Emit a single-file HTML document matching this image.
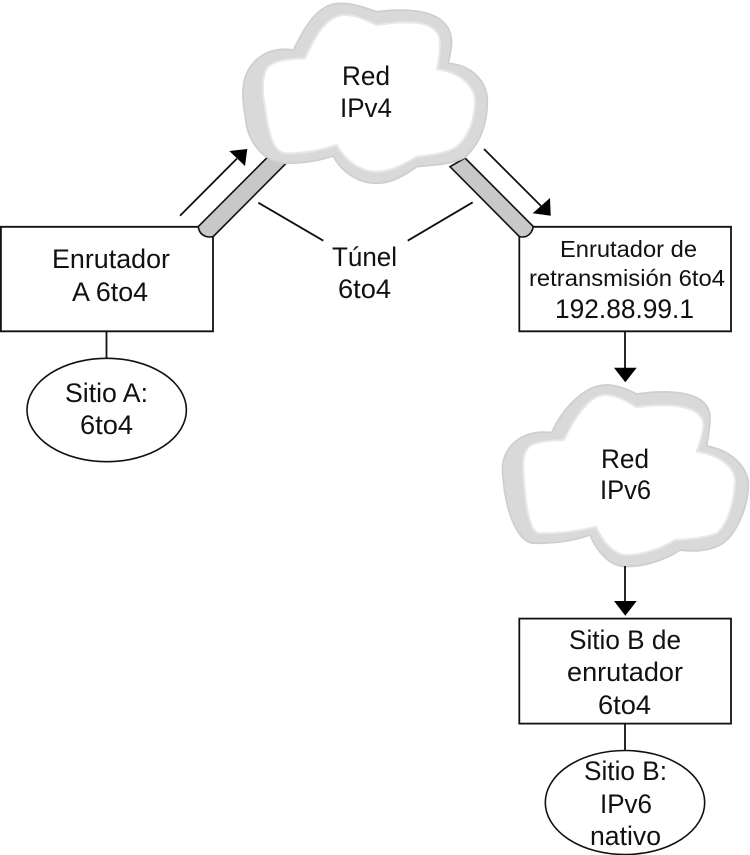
<!DOCTYPE html>
<html lang="es">
<head>
<meta charset="utf-8">
<title>Túnel 6to4</title>
<style>
html,body{margin:0;padding:0;background:#fff;}
svg{display:block;}
text{font-family:"Liberation Sans",Arial,sans-serif;font-size:26.5px;fill:#111;}
</style>
</head>
<body>
<svg width="750" height="855" viewBox="0 0 750 855" xmlns="http://www.w3.org/2000/svg">
<!-- tubes -->
<path d="M266.7 158 L198.3 226.5 Q199 234 206 236.5 Q210 237.5 213.3 236.5 L286.7 162.7 Z" fill="#c8c8c8" stroke="#111" stroke-width="1.6"/>
<path d="M465 158 L533.3 226.5 Q532 234 526 236.5 Q522 237.5 519.3 236.5 L450 166.7 Z" fill="#c8c8c8" stroke="#111" stroke-width="1.6"/>

<!-- cloud IPv4 -->
<g transform="translate(170,0) scale(0.33333)">
<path d="M370 150 C400 90 440 10 510 10 C555 10 590 25 620 35 C700 25 845 20 845 130 C843 155 838 175 835 190 C900 195 955 240 952 310 C950 390 920 440 885 472 C840 495 790 495 740 500 C700 530 660 550 620 550 C560 550 510 510 490 468 C440 485 390 490 350 490 C290 490 245 440 230 380 C225 340 215 300 220 260 C225 190 290 135 370 150 Z" fill="#d9d9d9" stroke="#cecece" stroke-width="5"/>
<path d="M405 175 C435 110 470 45 525 45 C560 45 590 62 620 75 C690 65 810 50 810 130 C810 160 805 190 800 208 C870 215 918 260 915 310 C912 370 890 415 860 440 C825 462 780 465 740 470 C700 495 660 515 620 515 C570 515 525 480 500 435 C450 452 400 460 350 460 C310 460 295 400 285 320 C275 270 275 215 300 195 C335 175 370 178 405 175 Z" fill="#fff" stroke="#e8e8e8" stroke-width="6"/>
</g>

<!-- cloud IPv6 -->
<g transform="translate(490,370) scale(0.33333)">
<path d="M185 188 C215 120 280 45 350 45 C385 45 415 60 440 72 C520 60 665 55 660 150 C658 190 652 215 650 228 C720 240 778 290 775 350 C772 420 735 500 690 525 C650 545 610 545 570 540 C530 570 460 590 410 590 C360 590 320 545 300 495 C245 515 190 520 130 520 C80 515 45 420 38 310 C30 230 100 175 185 188 Z" fill="#d9d9d9" stroke="#cecece" stroke-width="5"/>
<path d="M222 210 C250 150 295 75 345 75 C385 75 415 98 440 112 C520 100 645 100 640 170 C637 200 625 230 620 245 C690 255 740 295 735 340 C730 410 710 465 680 490 C640 505 595 508 555 510 C515 535 460 555 410 555 C370 555 335 510 318 470 C260 485 205 490 150 490 C115 490 105 390 100 300 C97 265 105 235 125 225 C155 212 190 212 222 210 Z" fill="#fff" stroke="#e8e8e8" stroke-width="6"/>
</g>

<!-- boxes -->
<g fill="#fff" stroke="#111" stroke-width="1.8">
<path d="M198.3 226.8 H0.9 V331.3 H213 V236.5" fill="none"/>
<path d="M533.3 226.8 H731 V331.3 H519.3 V236.5" fill="none"/>
<rect x="519.3" y="618.6" width="211.7" height="105"/>
</g>

<!-- ellipses -->
<g fill="#fff" stroke="#111" stroke-width="1.6">
<ellipse cx="106.7" cy="410" rx="79.7" ry="51.7"/>
<ellipse cx="625" cy="802.5" rx="79.7" ry="52"/>
</g>

<!-- connectors -->
<g stroke="#111" stroke-width="1.8" fill="none">
<line x1="106.5" y1="331" x2="106.5" y2="358"/>
<line x1="625" y1="724" x2="625" y2="750.5"/>
<line x1="625" y1="331" x2="625" y2="368"/>
<line x1="625" y1="566" x2="625" y2="601"/>
<line x1="180" y1="215.7" x2="237" y2="158.5"/>
<line x1="484" y1="149" x2="541" y2="206"/>
<line x1="258.3" y1="202.7" x2="323.3" y2="240.7"/>
<line x1="472.7" y1="202.3" x2="407.7" y2="240.7"/>
</g>

<!-- arrowheads -->
<g fill="#000">
<polygon points="614,367.7 636.7,367.7 625.3,382.3"/>
<polygon points="614,601 636.7,601 625.3,615.7"/>
<polygon points="247.3,149 229.3,151 245,166"/>
<polygon points="550.7,215.7 550,198 532.7,213.3"/>
</g>

<!-- labels -->
<text x="52" y="268" textLength="118" lengthAdjust="spacingAndGlyphs">Enrutador</text>
<text x="72" y="301" textLength="76" lengthAdjust="spacingAndGlyphs">A 6to4</text>
<text x="65" y="402" textLength="83" lengthAdjust="spacingAndGlyphs">Sitio A:</text>
<text x="80" y="434" textLength="53" lengthAdjust="spacingAndGlyphs">6to4</text>
<text x="342" y="85" textLength="48" lengthAdjust="spacingAndGlyphs">Red</text>
<text x="340" y="117" textLength="52" lengthAdjust="spacingAndGlyphs">IPv4</text>
<text x="332" y="266" textLength="65" lengthAdjust="spacingAndGlyphs">Túnel</text>
<text x="338" y="298" textLength="53" lengthAdjust="spacingAndGlyphs">6to4</text>
<text x="601" y="468" textLength="48" lengthAdjust="spacingAndGlyphs">Red</text>
<text x="600" y="499" textLength="51" lengthAdjust="spacingAndGlyphs">IPv6</text>
<text x="560" y="257" textLength="137" lengthAdjust="spacingAndGlyphs" style="font-size:23.5px">Enrutador de</text>
<text x="529" y="286" textLength="196" lengthAdjust="spacingAndGlyphs" style="font-size:23.5px">retransmisión 6to4</text>
<text x="555" y="318" textLength="139" lengthAdjust="spacingAndGlyphs">192.88.99.1</text>
<text x="569" y="649" textLength="112" lengthAdjust="spacingAndGlyphs">Sitio B de</text>
<text x="567" y="681" textLength="116" lengthAdjust="spacingAndGlyphs">enrutador</text>
<text x="598" y="714" textLength="53" lengthAdjust="spacingAndGlyphs">6to4</text>
<text x="584" y="780" textLength="83" lengthAdjust="spacingAndGlyphs">Sitio B:</text>
<text x="600" y="813" textLength="52" lengthAdjust="spacingAndGlyphs">IPv6</text>
<text x="590" y="845" textLength="71" lengthAdjust="spacingAndGlyphs">nativo</text>
</svg>
</body>
</html>
